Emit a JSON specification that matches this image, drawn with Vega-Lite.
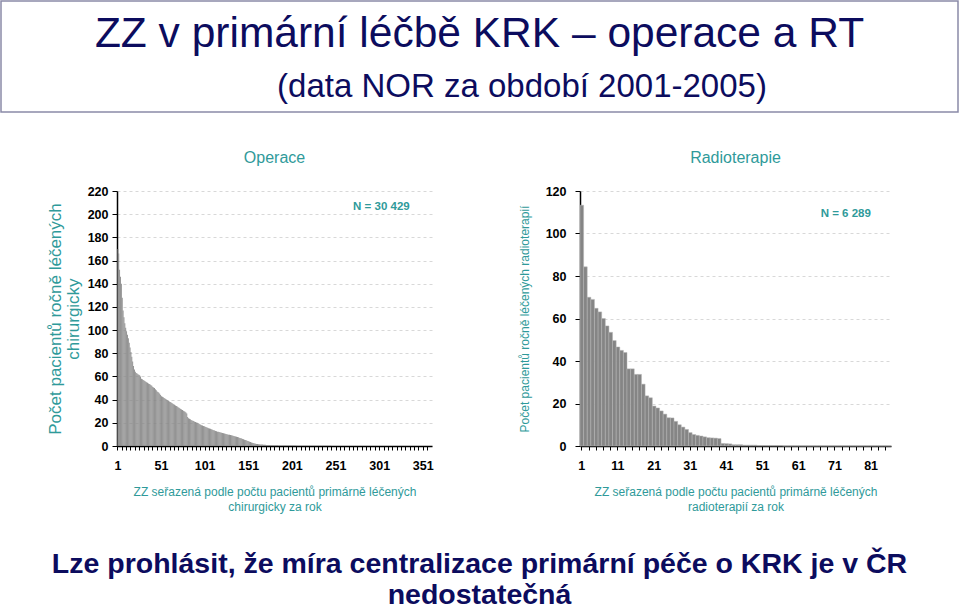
{
  "$schema": "https://vega.github.io/schema/vega-lite/v6.json",
  "padding": 0,
  "background": "white",
  "config": {
    "font": "Liberation Sans",
    "view": {"stroke": null},
    "axis": {"labelFont": "Liberation Sans", "titleFont": "Liberation Sans"},
    "title": {"font": "Liberation Sans"},
    "text": {"font": "Liberation Sans"}
  },
  "title": {
    "text": ["Lze prohlásit, že míra centralizace primární péče o KRK je v ČR", "nedostatečná"],
    "orient": "bottom",
    "anchor": "middle",
    "fontSize": 28.5,
    "fontWeight": "bold",
    "color": "#0c0c5e",
    "lineHeight": 31,
    "offset": 37
  },
  "spacing": 37,
  "vconcat": [
    {
      "width": 957,
      "height": 111,
      "view": {"stroke": "#8a8aa8", "strokeWidth": 1.5},
      "layer": [
        {
          "data": {"values": [{"t": "ZZ v primární léčbě KRK – operace a RT"}]},
          "mark": {"type": "text", "fontSize": 42.5, "color": "#0c0c5e", "baseline": "alphabetic", "align": "center", "dy": -10},
          "encoding": {"text": {"field": "t", "type": "nominal"}}
        },
        {
          "data": {"values": [{"t": "(data NOR za období 2001-2005)"}]},
          "mark": {"type": "text", "fontSize": 33, "color": "#0c0c5e", "baseline": "alphabetic", "align": "center", "dx": 42.5, "dy": 40},
          "encoding": {"text": {"field": "t", "type": "nominal"}}
        }
      ]
    },
    {
      "spacing": 44,
      "hconcat": [
        {
          "width": 1,
          "height": 1,
          "data": {"values": []},
          "mark": "point"
        },
        {
          "spacing": 84,
          "hconcat": [
            {
              "width": 315,
              "height": 255,
              "title": {"text": "Operace", "fontSize": 16, "fontWeight": "normal", "color": "#2f9a9a", "offset": 19, "anchor": "middle"},
              "layer": [
                {
                  "data": {"values": [
{"r":1,"v":170},{"r":2,"v":166},{"r":3,"v":152},{"r":4,"v":146},{"r":5,"v":140},{"r":6,"v":128},{"r":7,"v":117},{"r":8,"v":111},{"r":9,"v":106},{"r":10,"v":102},
{"r":11,"v":99},{"r":12,"v":96},{"r":13,"v":93},{"r":14,"v":89},{"r":15,"v":85},{"r":16,"v":81},{"r":17,"v":77},{"r":18,"v":73},{"r":19,"v":69},{"r":20,"v":66},
{"r":21,"v":64},{"r":22,"v":63},{"r":23,"v":62.5},{"r":24,"v":62},{"r":25,"v":61.5},{"r":26,"v":61},{"r":27,"v":60},{"r":28,"v":58},{"r":29,"v":57.5},{"r":30,"v":57},
{"r":31,"v":56.5},{"r":32,"v":56},{"r":33,"v":55.5},{"r":34,"v":55},{"r":35,"v":54.5},{"r":36,"v":54},{"r":37,"v":53.5},{"r":38,"v":53},{"r":39,"v":52.5},{"r":40,"v":52},
{"r":41,"v":51},{"r":42,"v":50.5},{"r":43,"v":50},{"r":44,"v":49},{"r":45,"v":48},{"r":46,"v":47},{"r":47,"v":46.5},{"r":48,"v":46},{"r":49,"v":45},{"r":50,"v":44},
{"r":51,"v":43},{"r":52,"v":42.5},{"r":53,"v":42},{"r":54,"v":41.5},{"r":55,"v":41},{"r":56,"v":40.5},{"r":57,"v":40},{"r":58,"v":39.5},{"r":59,"v":39},{"r":60,"v":38.5},
{"r":61,"v":38},{"r":62,"v":37.5},{"r":63,"v":37},{"r":64,"v":36.5},{"r":65,"v":36},{"r":66,"v":35.5},{"r":67,"v":35},{"r":68,"v":34.5},{"r":69,"v":34},{"r":70,"v":33.5},
{"r":71,"v":33},{"r":72,"v":32.5},{"r":73,"v":32},{"r":74,"v":31.5},{"r":75,"v":31},{"r":76,"v":30.5},{"r":77,"v":30},{"r":78,"v":29.5},{"r":79,"v":29},{"r":80,"v":28},
{"r":81,"v":25},{"r":82,"v":24},{"r":83,"v":23.5},{"r":84,"v":23},{"r":85,"v":22.5},{"r":86,"v":22},{"r":87,"v":21.8},{"r":88,"v":21.5},{"r":89,"v":21},{"r":90,"v":20.6},
{"r":91,"v":20.3},{"r":92,"v":20},{"r":93,"v":19.6},{"r":94,"v":19.2},{"r":95,"v":18.8},{"r":96,"v":18.4},{"r":97,"v":18},{"r":98,"v":17.6},{"r":99,"v":17.3},{"r":100,"v":17},
{"r":101,"v":16.7},{"r":102,"v":16.4},{"r":103,"v":16},{"r":104,"v":15.7},{"r":105,"v":15.4},{"r":106,"v":15.1},{"r":107,"v":14.8},{"r":108,"v":14.5},{"r":109,"v":14.2},{"r":110,"v":13.9},
{"r":111,"v":13.6},{"r":112,"v":13.3},{"r":113,"v":13},{"r":114,"v":12.7},{"r":115,"v":12.4},{"r":116,"v":12.2},{"r":117,"v":12},{"r":118,"v":11.8},{"r":119,"v":11.6},{"r":120,"v":11.4},
{"r":121,"v":11.2},{"r":122,"v":11},{"r":123,"v":10.8},{"r":124,"v":10.6},{"r":125,"v":10.4},{"r":126,"v":10.2},{"r":127,"v":10},{"r":128,"v":9.8},{"r":129,"v":9.6},{"r":130,"v":9.4},
{"r":131,"v":9.2},{"r":132,"v":9},{"r":133,"v":8.8},{"r":134,"v":8.6},{"r":135,"v":8.4},{"r":136,"v":8.2},{"r":137,"v":8},{"r":138,"v":7.8},{"r":139,"v":7.5},{"r":140,"v":7.2},
{"r":141,"v":7},{"r":142,"v":6.7},{"r":143,"v":6.4},{"r":144,"v":6.1},{"r":145,"v":5.8},{"r":146,"v":5.5},{"r":147,"v":5.2},{"r":148,"v":4.9},{"r":149,"v":4.6},{"r":150,"v":4.3},
{"r":151,"v":4},{"r":152,"v":3.7},{"r":153,"v":3.4},{"r":154,"v":3.1},{"r":155,"v":2.8},{"r":156,"v":2.6},{"r":157,"v":2.4},{"r":158,"v":2.2},{"r":159,"v":2},{"r":160,"v":1.8},
{"r":161,"v":1.7},{"r":162,"v":1.6},{"r":163,"v":1.5},{"r":164,"v":1.4},{"r":165,"v":1.3},{"r":166,"v":1.2},{"r":167,"v":1.2},{"r":168,"v":1.1},{"r":169,"v":1},{"r":170,"v":1},
{"r":171,"v":0.9},{"r":172,"v":0.9},{"r":173,"v":0.8},{"r":174,"v":0.8},{"r":175,"v":0.8},{"r":176,"v":0.7},{"r":177,"v":0.7},{"r":178,"v":0.7},{"r":179,"v":0.6},{"r":180,"v":0.6},
{"r":181,"v":0.6},{"r":182,"v":0.6},{"r":183,"v":0.6},{"r":184,"v":0.6},{"r":185,"v":0.5},{"r":186,"v":0.5},{"r":187,"v":0.5},{"r":188,"v":0.5},{"r":189,"v":0.5},{"r":190,"v":0.4},
{"r":191,"v":0.4},{"r":192,"v":0.4},{"r":193,"v":0.4},{"r":194,"v":0.4},{"r":195,"v":0.4},{"r":196,"v":0.4},{"r":197,"v":0.4},{"r":198,"v":0.4},{"r":199,"v":0.4},{"r":200,"v":0.4},
{"r":201,"v":0.4},{"r":202,"v":0.4},{"r":203,"v":0.4},{"r":204,"v":0.4},{"r":205,"v":0.4},{"r":206,"v":0.3},{"r":207,"v":0.3},{"r":208,"v":0.3},{"r":209,"v":0.3},{"r":210,"v":0.3},
{"r":211,"v":0.3},{"r":212,"v":0.3},{"r":213,"v":0.3},{"r":214,"v":0.3},{"r":215,"v":0.3},{"r":216,"v":0.3},{"r":217,"v":0.3},{"r":218,"v":0.3},{"r":219,"v":0.3},{"r":220,"v":0.3},
{"r":221,"v":0.2},{"r":222,"v":0.2},{"r":223,"v":0.2},{"r":224,"v":0.2},{"r":225,"v":0.2},{"r":226,"v":0.2},{"r":227,"v":0.2},{"r":228,"v":0.2},{"r":229,"v":0.2},{"r":230,"v":0.2},
{"r":231,"v":0.2},{"r":232,"v":0.2},{"r":233,"v":0.2},{"r":234,"v":0.2},{"r":235,"v":0.2},{"r":236,"v":0.2},{"r":237,"v":0.2},{"r":238,"v":0.2},{"r":239,"v":0.2},{"r":240,"v":0.2},
{"r":241,"v":0.2},{"r":242,"v":0.2},{"r":243,"v":0.2},{"r":244,"v":0.2},{"r":245,"v":0.2},{"r":246,"v":0},{"r":247,"v":0},{"r":248,"v":0},{"r":249,"v":0},{"r":250,"v":0},
{"r":251,"v":0},{"r":252,"v":0},{"r":253,"v":0},{"r":254,"v":0},{"r":255,"v":0},{"r":256,"v":0},{"r":257,"v":0},{"r":258,"v":0},{"r":259,"v":0},{"r":260,"v":0},
{"r":261,"v":0},{"r":262,"v":0},{"r":263,"v":0},{"r":264,"v":0},{"r":265,"v":0},{"r":266,"v":0},{"r":267,"v":0},{"r":268,"v":0},{"r":269,"v":0},{"r":270,"v":0},
{"r":271,"v":0},{"r":272,"v":0},{"r":273,"v":0},{"r":274,"v":0},{"r":275,"v":0},{"r":276,"v":0},{"r":277,"v":0},{"r":278,"v":0},{"r":279,"v":0},{"r":280,"v":0},
{"r":281,"v":0},{"r":282,"v":0},{"r":283,"v":0},{"r":284,"v":0},{"r":285,"v":0},{"r":286,"v":0},{"r":287,"v":0},{"r":288,"v":0},{"r":289,"v":0},{"r":290,"v":0},
{"r":291,"v":0},{"r":292,"v":0},{"r":293,"v":0},{"r":294,"v":0},{"r":295,"v":0},{"r":296,"v":0},{"r":297,"v":0},{"r":298,"v":0},{"r":299,"v":0},{"r":300,"v":0},
{"r":301,"v":0},{"r":302,"v":0},{"r":303,"v":0},{"r":304,"v":0},{"r":305,"v":0},{"r":306,"v":0},{"r":307,"v":0},{"r":308,"v":0},{"r":309,"v":0},{"r":310,"v":0},
{"r":311,"v":0},{"r":312,"v":0},{"r":313,"v":0},{"r":314,"v":0},{"r":315,"v":0},{"r":316,"v":0},{"r":317,"v":0},{"r":318,"v":0},{"r":319,"v":0},{"r":320,"v":0},
{"r":321,"v":0},{"r":322,"v":0},{"r":323,"v":0},{"r":324,"v":0},{"r":325,"v":0},{"r":326,"v":0},{"r":327,"v":0},{"r":328,"v":0},{"r":329,"v":0},{"r":330,"v":0},
{"r":331,"v":0},{"r":332,"v":0},{"r":333,"v":0},{"r":334,"v":0},{"r":335,"v":0},{"r":336,"v":0},{"r":337,"v":0},{"r":338,"v":0},{"r":339,"v":0},{"r":340,"v":0},
{"r":341,"v":0},{"r":342,"v":0},{"r":343,"v":0},{"r":344,"v":0},{"r":345,"v":0},{"r":346,"v":0},{"r":347,"v":0},{"r":348,"v":0},{"r":349,"v":0},{"r":350,"v":0},
{"r":351,"v":0},{"r":352,"v":0},{"r":353,"v":0},{"r":354,"v":0},{"r":355,"v":0},{"r":356,"v":0},{"r":357,"v":0},{"r":358,"v":0},{"r":359,"v":0},{"r":360,"v":0}
                  ]},
                  "mark": {"type": "bar", "color": "#878787"},
                  "encoding": {
                    "x": {
                      "field": "r", "type": "ordinal",
                      "scale": {"paddingInner": 0, "paddingOuter": 0.5},
                      "axis": {
                        "values": [1,6,11,16,21,26,31,36,41,46,51,56,61,66,71,76,81,86,91,96,101,106,111,116,121,126,131,136,141,146,151,156,161,166,171,176,181,186,191,196,201,206,211,216,221,226,231,236,241,246,251,256,261,266,271,276,281,286,291,296,301,306,311,316,321,326,331,336,341,346,351,356],
                        "labelExpr": "(datum.value - 1) % 50 == 0 ? datum.label : ''",
                        "labelAngle": 0, "labelOverlap": false, "labelFontWeight": "bold", "labelFontSize": 12.5, "labelColor": "black", "labelPadding": 9,
                        "tickSize": 4, "tickColor": "black", "tickWidth": 1, "domainColor": "black", "domainWidth": 1.5,
                        "title": ["ZZ seřazená podle počtu pacientů primárně léčených", "chirurgicky za rok"],
                        "titleColor": "#2f9a9a", "titleFontSize": 12, "titleFontWeight": "normal", "titlePadding": 15, "titleLineHeight": 15
                      }
                    },
                    "y": {
                      "field": "v", "type": "quantitative",
                      "scale": {"domain": [0, 220], "nice": false},
                      "axis": {
                        "values": [0,20,40,60,80,100,120,140,160,180,200,220],
                        "labelOverlap": false,
                        "grid": true, "gridDash": [3,3], "gridColor": "#d8d8d8", "gridWidth": 1,
                        "labelFontWeight": "bold", "labelFontSize": 12.5, "labelColor": "black", "labelPadding": 4,
                        "tickSize": 5, "tickColor": "black", "domainColor": "black", "domainWidth": 1.5,
                        "title": ["Počet pacientů ročně léčených", "chirurgicky"],
                        "titleColor": "#2f9a9a", "titleFontSize": 17, "titleFontWeight": "normal", "titlePadding": 5, "titleLineHeight": 18
                      }
                    }
                  }
                },
                {
                  "data": {"values": [{"n": "N = 30 429"}]},
                  "mark": {"type": "text", "fontSize": 11.5, "fontWeight": "bold", "color": "#2f9a9a", "align": "center", "baseline": "middle"},
                  "encoding": {
                    "x": {"datum": 303, "type": "ordinal"},
                    "y": {
                      "datum": 206, "type": "quantitative",
                      "axis": {
                        "values": [0,20,40,60,80,100,120,140,160,180,200,220],
                        "labelOverlap": false,
                        "grid": true, "gridDash": [3,3], "gridColor": "#d8d8d8", "gridWidth": 1,
                        "labelFontWeight": "bold", "labelFontSize": 12.5, "labelColor": "black", "labelPadding": 4,
                        "tickSize": 5, "tickColor": "black", "domainColor": "black", "domainWidth": 1.5,
                        "title": ["Počet pacientů ročně léčených", "chirurgicky"],
                        "titleColor": "#2f9a9a", "titleFontSize": 17, "titleFontWeight": "normal", "titlePadding": 5, "titleLineHeight": 18
                      }
                    },
                    "text": {"field": "n", "type": "nominal"}
                  }
                }
              ]
            },
            {
              "width": 311,
              "height": 255,
              "title": {"text": "Radioterapie", "fontSize": 16, "fontWeight": "normal", "color": "#2f9a9a", "offset": 19, "anchor": "middle"},
              "layer": [
                {
                  "data": {"values": [
{"r":1,"v":113.3},{"r":2,"v":84.3},{"r":3,"v":70},{"r":4,"v":69},{"r":5,"v":64.8},{"r":6,"v":63.1},{"r":7,"v":60},{"r":8,"v":56.5},{"r":9,"v":53.5},{"r":10,"v":49.6},
{"r":11,"v":46.6},{"r":12,"v":45},{"r":13,"v":44},{"r":14,"v":36.3},{"r":15,"v":36.3},{"r":16,"v":33.7},{"r":17,"v":33.7},{"r":18,"v":29.1},{"r":19,"v":23.6},{"r":20,"v":22.7},
{"r":21,"v":18.8},{"r":22,"v":17.9},{"r":23,"v":16.5},{"r":24,"v":15},{"r":25,"v":13.3},{"r":26,"v":13.2},{"r":27,"v":11.6},{"r":28,"v":10},{"r":29,"v":8.9},{"r":30,"v":7.8},
{"r":31,"v":6.3},{"r":32,"v":5.4},{"r":33,"v":5},{"r":34,"v":4.7},{"r":35,"v":4.3},{"r":36,"v":3.9},{"r":37,"v":3.8},{"r":38,"v":3.7},{"r":39,"v":3.5},{"r":40,"v":1.2},
{"r":41,"v":1.1},{"r":42,"v":1},{"r":43,"v":0.6},{"r":44,"v":0.6},{"r":45,"v":0.6},{"r":46,"v":0.4},{"r":47,"v":0.4},{"r":48,"v":0.4},{"r":49,"v":0.4},{"r":50,"v":0.2},
{"r":51,"v":0.2},{"r":52,"v":0.2},{"r":53,"v":0.2},{"r":54,"v":0.2},{"r":55,"v":0.2},{"r":56,"v":0.2},{"r":57,"v":0},{"r":58,"v":0},{"r":59,"v":0},{"r":60,"v":0},
{"r":61,"v":0},{"r":62,"v":0},{"r":63,"v":0},{"r":64,"v":0},{"r":65,"v":0},{"r":66,"v":0},{"r":67,"v":0},{"r":68,"v":0},{"r":69,"v":0},{"r":70,"v":0},
{"r":71,"v":0},{"r":72,"v":0},{"r":73,"v":0},{"r":74,"v":0},{"r":75,"v":0},{"r":76,"v":0},{"r":77,"v":0},{"r":78,"v":0},{"r":79,"v":0},{"r":80,"v":0},
{"r":81,"v":0},{"r":82,"v":0},{"r":83,"v":0},{"r":84,"v":0},{"r":85,"v":0},{"r":86,"v":0}
                  ]},
                  "mark": {"type": "bar", "color": "#858585", "stroke": "#b4b4b4", "strokeWidth": 0.5},
                  "encoding": {
                    "x": {
                      "field": "r", "type": "ordinal",
                      "scale": {"paddingInner": 0, "paddingOuter": 0},
                      "axis": {
                        "values": [1,3,5,7,9,11,13,15,17,19,21,23,25,27,29,31,33,35,37,39,41,43,45,47,49,51,53,55,57,59,61,63,65,67,69,71,73,75,77,79,81,83,85],
                        "labelExpr": "(datum.value - 1) % 10 == 0 ? datum.label : ''",
                        "labelAngle": 0, "labelOverlap": false, "labelFontWeight": "bold", "labelFontSize": 12.5, "labelColor": "black", "labelPadding": 9,
                        "tickSize": 4, "tickColor": "black", "tickWidth": 1, "domainColor": "black", "domainWidth": 1.5,
                        "title": ["ZZ seřazená podle počtu pacientů primárně léčených", "radioterapií za rok"],
                        "titleColor": "#2f9a9a", "titleFontSize": 12, "titleFontWeight": "normal", "titlePadding": 15, "titleLineHeight": 15
                      }
                    },
                    "y": {
                      "field": "v", "type": "quantitative",
                      "scale": {"domain": [0, 120], "nice": false},
                      "axis": {
                        "values": [0,20,40,60,80,100,120],
                        "labelOverlap": false,
                        "grid": true, "gridDash": [3,3], "gridColor": "#d8d8d8", "gridWidth": 1,
                        "labelFontWeight": "bold", "labelFontSize": 12.5, "labelColor": "black", "labelPadding": 9,
                        "tickSize": 5, "tickColor": "black", "domainColor": "black", "domainWidth": 1.5,
                        "title": "Počet pacientů ročně léčených radioterapií",
                        "titleLimit": 400,
                        "titleColor": "#2f9a9a", "titleFontSize": 12, "titleFontWeight": "normal", "titlePadding": 14
                      }
                    }
                  }
                },
                {
                  "data": {"values": [{"n": "N = 6 289"}]},
                  "mark": {"type": "text", "fontSize": 11.5, "fontWeight": "bold", "color": "#2f9a9a", "align": "center", "baseline": "middle"},
                  "encoding": {
                    "x": {"datum": 74, "type": "ordinal"},
                    "y": {
                      "datum": 109, "type": "quantitative",
                      "axis": {
                        "values": [0,20,40,60,80,100,120],
                        "labelOverlap": false,
                        "grid": true, "gridDash": [3,3], "gridColor": "#d8d8d8", "gridWidth": 1,
                        "labelFontWeight": "bold", "labelFontSize": 12.5, "labelColor": "black", "labelPadding": 9,
                        "tickSize": 5, "tickColor": "black", "domainColor": "black", "domainWidth": 1.5,
                        "title": "Počet pacientů ročně léčených radioterapií",
                        "titleLimit": 400,
                        "titleColor": "#2f9a9a", "titleFontSize": 12, "titleFontWeight": "normal", "titlePadding": 14
                      }
                    },
                    "text": {"field": "n", "type": "nominal"}
                  }
                }
              ]
            }
          ]
        }
      ]
    }
  ]
}
